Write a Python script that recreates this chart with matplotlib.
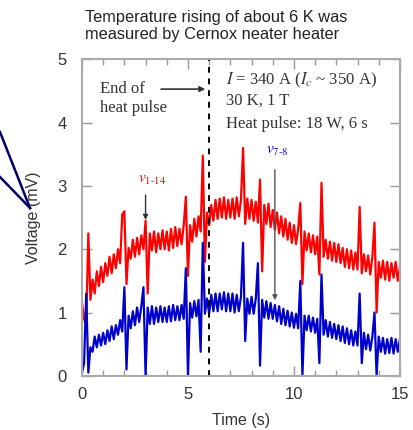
import numpy as np
import matplotlib
matplotlib.use("Agg")
import matplotlib.pyplot as plt
from matplotlib.lines import Line2D
from matplotlib.ticker import MultipleLocator

plt.rcParams['font.family'] = ['Liberation Sans', 'DejaVu Sans']
plt.rcParams['mathtext.fontset'] = 'stix'

# sample times, 0.1 s apart
t = np.linspace(0, 15, 151)

# v1-14 trace (mV), one row per second
v_1_14 = [
    1.15, 0.90, 0.80, 2.25, 1.20, 1.52, 1.30, 1.65, 1.42, 1.72,
    1.48, 1.78, 1.58, 1.88, 1.62, 1.92, 1.70, 2.00, 1.78, 2.55,
    2.60, 1.45, 2.02, 1.85, 2.15, 1.88, 2.18, 1.92, 2.22, 2.00,
    2.45, 1.30, 2.25, 1.98, 2.28, 1.95, 2.25, 2.00, 2.30, 2.00,
    2.28, 1.98, 2.32, 2.02, 2.35, 2.05, 2.32, 2.08, 2.38, 2.83,
    1.58, 2.38, 2.12, 2.48, 2.20, 2.52, 2.28, 3.48, 1.80, 2.58,
    2.38, 2.70, 2.45, 2.78, 2.48, 2.80, 2.50, 2.82, 2.48, 2.78,
    2.50, 2.80, 2.48, 2.82, 2.52, 2.78, 3.60, 2.40, 2.80, 2.48,
    2.78, 2.45, 2.75, 2.42, 3.10, 1.65, 2.70, 2.40, 2.72, 2.35,
    2.62, 2.30, 2.58, 2.25, 2.52, 2.20, 2.48, 2.15, 2.42, 2.10,
    2.38, 2.08, 2.32, 2.73, 1.45, 2.28, 1.98, 2.25, 1.95, 2.22,
    1.92, 2.20, 1.60, 3.05, 1.88, 2.15, 1.85, 2.12, 1.82, 2.10,
    1.80, 2.08, 1.78, 2.02, 1.72, 2.00, 1.70, 1.98, 1.68, 1.95,
    1.68, 2.67, 1.62, 1.92, 1.65, 1.90, 1.60, 1.88, 2.42, 1.00,
    1.80, 1.55, 1.82, 1.52, 1.80, 1.50, 1.78, 1.55, 1.80, 1.50,
    1.72,
]

# v7-8 trace (mV)
v_7_8 = [
    0.05, 0.20, 1.30, 0.05, 0.45, 0.38, 0.62, 0.45, 0.65, 0.48,
    0.68, 0.50, 0.72, 0.55, 0.78, 0.58, 0.80, 0.65, 0.88, 0.70,
    1.40, 0.10, 0.95, 0.75, 1.02, 0.80, 1.08, 0.85, 1.10, 1.40,
    0.00, 1.08, 0.82, 1.10, 0.82, 1.08, 0.85, 1.10, 0.85, 1.08,
    0.85, 1.10, 0.86, 1.12, 0.88, 1.10, 0.88, 1.12, 0.90, 1.70,
    0.00, 1.15, 0.92, 1.18, 0.94, 1.20, 0.38, 2.10, 0.98, 1.22,
    0.98, 1.28, 1.02, 1.30, 1.02, 1.30, 1.05, 1.32, 1.02, 1.30,
    1.02, 1.30, 1.00, 1.28, 1.02, 1.25, 2.10, 0.55, 1.22, 0.98,
    1.25, 0.98, 1.22, 1.78, 0.16, 1.20, 0.92, 1.18, 0.90, 1.15,
    0.90, 1.12, 0.86, 1.10, 0.82, 1.06, 0.80, 1.03, 0.78, 1.00,
    0.76, 0.98, 0.75, 1.50, 0.00, 0.95, 0.72, 0.95, 0.70, 0.92,
    0.68, 0.90, 0.20, 1.60, 0.65, 0.88, 0.62, 0.85, 0.60, 0.82,
    0.58, 0.80, 0.55, 0.78, 0.52, 0.75, 0.50, 0.72, 0.48, 0.70,
    0.48, 1.30, 0.20, 0.68, 0.42, 0.65, 0.40, 0.62, 1.00, 0.00,
    0.62, 0.38, 0.60, 0.35, 0.58, 0.36, 0.60, 0.35, 0.58, 0.38,
    0.58,
]

pulse_end = 6.0

fig = plt.figure(figsize=(4.14, 4.30), dpi=100)
ax = fig.add_axes([0.198, 0.126, 0.768, 0.736])

ax.plot(t, v_1_14, color='#ff0000', lw=1.6)
ax.plot(t, v_7_8, color='#0000cc', lw=1.6)
ax.axvline(pulse_end, color='black', ls=(0, (3, 3)), lw=1.4)

ax.set_xlim(0, 15)
ax.set_ylim(0, 5)
ax.xaxis.set_major_locator(MultipleLocator(5))
ax.xaxis.set_minor_locator(MultipleLocator(1))
ax.yaxis.set_major_locator(MultipleLocator(1))
ax.tick_params(which='both', direction='in', top=True, right=True,
               color='#999999', labelsize=12, labelcolor='#333333')
ax.tick_params(axis='y', pad=11)
ax.tick_params(axis='x', pad=8)
ax.tick_params(which='major', length=7, width=1)
ax.tick_params(which='minor', length=4, width=1)
for s in ax.spines.values():
    s.set_color('#aaaaaa')
    s.set_linewidth(1.5)

ax.set_xlabel('Time (s)', fontsize=11.5, color='#333333', labelpad=8)
ax.set_ylabel('Voltage (mV)', fontsize=11.5, color='#333333', labelpad=12)

fig.text(0.205, 0.977, 'Temperature rising of about 6 K was\nmeasured by Cernox neater heater',
         fontsize=11.8, color='#222222', va='top', ha='left', linespacing=1.15)

serif = ['Liberation Serif', 'DejaVu Serif']
ax.text(0.85, 4.38, 'End of\nheat pulse', family=serif, fontsize=12,
        color='#333333', va='center', linespacing=1.3)
ax.annotate('', xy=(5.95, 4.53), xytext=(3.6, 4.53),
            arrowprops=dict(arrowstyle='-|>', color='#333333', lw=1.2,
                            mutation_scale=8))
ax.text(6.8, 4.66, r'$I$ = 340 A ($I_c$ ~ 350 A)', family=serif, fontsize=12,
        color='#333333', va='center')
ax.text(6.8, 4.34, '30 K, 1 T', family=serif, fontsize=12,
        color='#333333', va='center')
ax.text(6.8, 3.98, 'Heat pulse: 18 W, 6 s', family=serif, fontsize=12,
        color='#333333', va='center')

ax.text(2.65, 3.05, r'$v_{1\text{-}14}$', color='#ff0000', fontsize=11)
ax.annotate('', xy=(3.0, 2.42), xytext=(3.0, 2.9),
            arrowprops=dict(arrowstyle='-|>', color='#333333', lw=1.0,
                            mutation_scale=7))
ax.text(8.7, 3.5, r'$v_{7\text{-}8}$', color='#0000cc', fontsize=11)
ax.annotate('', xy=(9.1, 1.15), xytext=(9.1, 3.3),
            arrowprops=dict(arrowstyle='-|>', color='#555555', lw=1.0,
                            mutation_scale=7))

# callout lines coming in from the left edge
for y0 in (1 - 132 / 430, 1 - 177 / 430):
    fig.add_artist(Line2D([0.0, 30 / 414], [y0, 1 - 208 / 430],
                          color='#000060', lw=1.8, transform=fig.transFigure))

fig.savefig('out.png', dpi=100)
